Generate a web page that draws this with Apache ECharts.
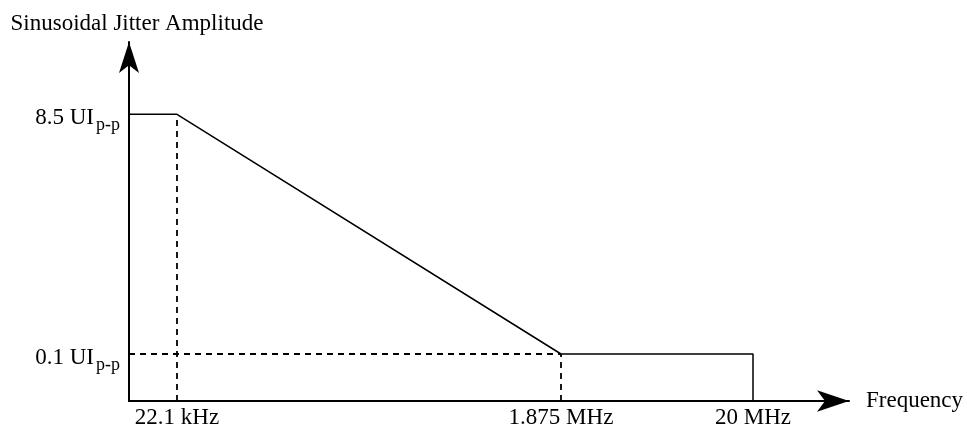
<!DOCTYPE html>
<html>
<head>
<meta charset="utf-8">
<script src="https://cdn.jsdelivr.net/npm/echarts@6/dist/echarts.min.js"></script>
<style>
html,body{margin:0;padding:0;background:#fff;}
#c{width:967px;height:433px;}
</style>
</head>
<body>
<div id="c"></div>
<script>
// Schematic positions (not to scale)
var maskX = [0, 1, 9, 13, 13];          // frequency break points (schematic units)
var maskY = [6.1, 6.1, 1, 1, 0];        // jitter amplitude (schematic units)
var xTickValues = [1, 9, 13];
var xTickLabels = ['22.1 kHz', '1.875 MHz', '20 MHz'];
var yTickValues = [1, 6.1];
var yTickLabels = ['0.1', '8.5'];
var yUnit = 'UI';
var ySub = 'p-p';

var FONT = 'Liberation Serif';
var FS = 23;

var chart = echarts.init(document.getElementById('c'));

var maskData = maskX.map(function (x, i) { return [x, maskY[i]]; });
// dashed guides derived from break points
var dashV1 = [[maskX[1], 0], [maskX[1], maskY[1]]];
var dashV2 = [[maskX[2], 0], [maskX[2], maskY[2]]];
var dashH = [[0, maskY[2]], [maskX[2], maskY[2]]];

function labelOf(list, vals, v) {
  for (var i = 0; i < vals.length; i++) if (Math.abs(vals[i] - v) < 1e-6) return list[i];
  return '';
}

var dashStyle = { color: '#000', width: 1.8, type: [6, 5] };

chart.setOption({
  animation: false,
  backgroundColor: '#fff',
  grid: { left: 129, right: 118, top: 42, bottom: 32 },
  xAxis: {
    type: 'value', min: 0, max: 15,
    name: 'Frequency', nameLocation: 'end', nameGap: 17,
    nameTextStyle: { fontFamily: FONT, fontSize: FS, color: '#000', padding: [0, 0, 9, 0] },
    axisLine: { show: true, symbol: ['none', 'arrow'], symbolSize: [16, 32], lineStyle: { color: '#000', width: 2 } },
    axisTick: { show: false },
    splitLine: { show: false },
    axisLabel: {
      customValues: xTickValues,
      formatter: function (v) { return labelOf(xTickLabels, xTickValues, v); },
      fontFamily: FONT, fontSize: FS, color: '#000', margin: 5
    }
  },
  yAxis: {
    type: 'value', min: 0, max: 7.64,
    name: 'Sinusoidal Jitter Amplitude', nameLocation: 'end', nameGap: 7,
    nameTextStyle: { fontFamily: FONT, fontSize: FS, color: '#000', padding: [0, 0, 0, 16] },
    axisLine: { show: true, symbol: ['none', 'arrow'], symbolSize: [15, 31], lineStyle: { color: '#000', width: 2 } },
    axisTick: { show: false },
    splitLine: { show: false },
    axisLabel: {
      customValues: yTickValues,
      formatter: function (v) { return '{m|' + labelOf(yTickLabels, yTickValues, v) + ' ' + yUnit + '}{s|' + ySub + '}'; },
      margin: 9,
      padding: [8, 0, 0, 0],
      rich: {
        m: { fontFamily: FONT, fontSize: FS, color: '#000', lineHeight: 32, verticalAlign: 'middle' },
        s: { fontFamily: FONT, fontSize: 18, color: '#000', lineHeight: 32, verticalAlign: 'bottom', padding: [0, 0, 0, 2] }
      }
    }
  },
  series: [
    { type: 'line', data: maskData, symbol: 'none', lineStyle: { color: '#000', width: 1.5 }, z: 3 },
    { type: 'line', data: dashV1, symbol: 'none', lineStyle: dashStyle },
    { type: 'line', data: dashV2, symbol: 'none', lineStyle: dashStyle },
    { type: 'line', data: dashH, symbol: 'none', lineStyle: dashStyle }
  ]
});
</script>
</body>
</html>
